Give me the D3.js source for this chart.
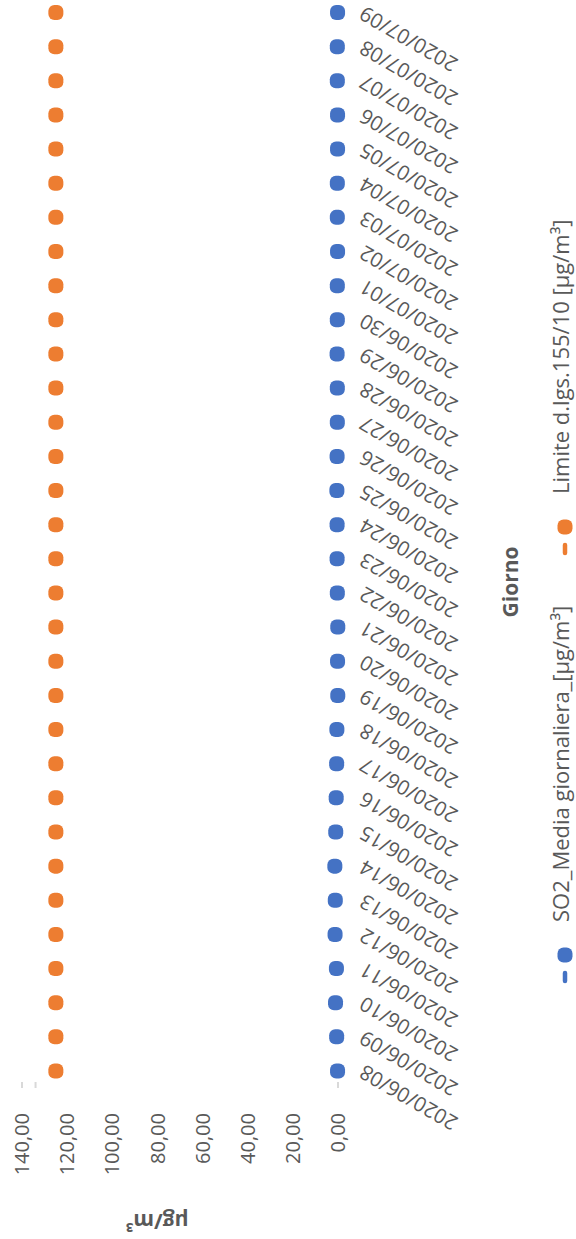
<!DOCTYPE html>
<html>
<head>
<meta charset="utf-8">
<script src="https://cdn.jsdelivr.net/npm/d3@7"></script>
<style>
  html, body { margin: 0; padding: 0; background: #ffffff; }
  svg { display: block; }
  text { font-family: "Open Sans", "Noto Sans", sans-serif; fill: #595959; }
</style>
</head>
<body>
<script>
// ---- data ----
const dates = [
  "2020/06/08","2020/06/09","2020/06/10","2020/06/11","2020/06/12","2020/06/13",
  "2020/06/14","2020/06/15","2020/06/16","2020/06/17","2020/06/18","2020/06/19",
  "2020/06/20","2020/06/21","2020/06/22","2020/06/23","2020/06/24","2020/06/25",
  "2020/06/26","2020/06/27","2020/06/28","2020/06/29","2020/06/30","2020/07/01",
  "2020/07/02","2020/07/03","2020/07/04","2020/07/05","2020/07/06","2020/07/07",
  "2020/07/08","2020/07/09"
];
const so2Values = [
  0.2, 0.6, 1.1, 0.7, 1.3, 1.2, 1.4, 1.0, 0.8, 0.6, 0.5, 0.1,
  0.2, 0.1, 0.3, 0.4, 0.4, 0.5, 0.4, 0.3, 0.3, 0.4, 0.3, 0.3,
  0.2, 0.3, 0.3, 0.2, 0.2, 0.3, 0.3, 0.2
];
const limitValues = [
  125, 125, 125, 125, 125, 125, 125, 125, 125, 125, 125, 125,
  125, 125, 125, 125, 125, 125, 125, 125, 125, 125, 125, 125,
  125, 125, 125, 125, 125, 125, 125, 125
];
const valueTicks = [0, 20, 40, 60, 80, 100, 120, 140];
const valueTickLabels = ["0,00","20,00","40,00","60,00","80,00","100,00","120,00","140,00"];
const tickStubs = [0, 134, 140];
const seriesNames = ["SO2_Media giornaliera_[µg/m³]", "Limite d.lgs.155/10 [µg/m³]"];
const seriesColors = ["#4472C4", "#ED7D31"];
const yTitle = "µg/m³";
const xTitle = "Giorno";

// ---- layout (chart drawn landscape, then rotated -90°) ----
const W = 576, H = 1239;
const svg = d3.select("body").append("svg").attr("width", W).attr("height", H);
svg.append("rect").attr("width", W).attr("height", H).attr("fill", "#fff");

const g = svg.append("g").attr("transform", `translate(0,${H}) rotate(-90)`);

const x = d3.scalePoint().domain(dates).range([168, 1226.5]);
const y = d3.scaleLinear().domain([0, 140]).range([338, 22]);

// tick stubs
g.selectAll("line.stub").data(tickStubs).join("line")
  .attr("class", "stub")
  .attr("x1", 151).attr("x2", 157)
  .attr("y1", d => y(d)).attr("y2", d => y(d))
  .attr("stroke", "#d9d9d9").attr("stroke-width", 2);

// value labels
g.selectAll("text.vt").data(valueTicks).join("text")
  .attr("class", "vt")
  .attr("x", 126).attr("y", d => y(d)).attr("dy", "0.36em")
  .attr("text-anchor", "end")
  .style("font-size", "20px")
  .text((d, i) => valueTickLabels[i]);

// category labels
g.selectAll("text.ct").data(dates).join("text")
  .attr("class", "ct")
  .attr("transform", d => `translate(${x(d) + 7},365) rotate(-60)`)
  .attr("text-anchor", "end")
  .style("font-size", "20.5px")
  .text(d => d);

// markers
const ms = 15;
function drawSeries(values, color) {
  g.append("g").selectAll("rect").data(values).join("rect")
    .attr("x", (d, i) => x(dates[i]) - ms / 2)
    .attr("y", d => y(d) - ms / 2)
    .attr("width", ms).attr("height", ms).attr("rx", 6).attr("ry", 6)
    .attr("fill", color);
}
drawSeries(limitValues, seriesColors[1]);
drawSeries(so2Values, seriesColors[0]);

// axis titles
g.append("text")
  .attr("transform", `translate(17,157) rotate(-90)`)
  .attr("text-anchor", "middle").attr("dy", "0.36em")
  .style("font-size", "21px").style("font-weight", "bold")
  .text(yTitle);

g.append("text")
  .attr("x", 657).attr("y", 510).attr("dy", "0.36em")
  .attr("text-anchor", "middle")
  .style("font-size", "21px").style("font-weight", "bold")
  .text(xTitle);

// legend
const legendMarkerX = [284, 712];
const lg = g.append("g");
seriesNames.forEach((name, i) => {
  const mx = legendMarkerX[i];
  lg.append("line")
    .attr("x1", mx - 26).attr("x2", mx - 18)
    .attr("y1", 565).attr("y2", 565)
    .attr("stroke", seriesColors[i]).attr("stroke-width", 4.5)
    .attr("stroke-linecap", "round");
  lg.append("rect")
    .attr("x", mx - ms / 2).attr("y", 565 - ms / 2)
    .attr("width", ms).attr("height", ms).attr("rx", 6).attr("ry", 6)
    .attr("fill", seriesColors[i]);
  lg.append("text")
    .attr("x", mx + 33).attr("y", 561).attr("dy", "0.36em")
    .style("font-size", "22px")
    .text(name);
});
</script>
</body>
</html>
